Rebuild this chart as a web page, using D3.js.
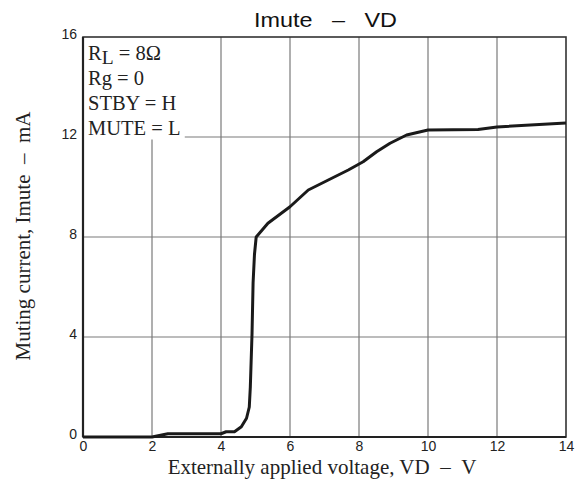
<!DOCTYPE html>
<html><head><meta charset="utf-8">
<script src="https://cdn.jsdelivr.net/npm/d3@7"></script>
<style>body{margin:0;background:#fff}</style>
</head><body>
<svg id="c" width="583" height="490"></svg>
<script>
const vdValues = [0, 2, 2.46, 4.0, 4.15, 4.39, 4.59, 4.74, 4.82, 4.85, 4.9, 4.93, 4.97, 5.02, 5.36, 6.0, 6.53, 7.11, 7.69, 8.12, 8.51, 8.9, 9.38, 10.0, 11.45, 12.0, 14.0];
const imuteValues = [0, 0, 0.13, 0.13, 0.21, 0.21, 0.41, 0.75, 1.2, 2.0, 4.16, 6.16, 7.3, 8.0, 8.55, 9.21, 9.88, 10.28, 10.68, 11.01, 11.41, 11.75, 12.08, 12.28, 12.3, 12.4, 12.56];
const xTicks = [0, 2, 4, 6, 8, 10, 12, 14];
const yTicks = [0, 4, 8, 12, 16];
const legendLines = ["Rg = 0", "STBY = H", "MUTE = L"];

const svg = d3.select("#c");
const L = 83, R = 566, T = 37, B = 437;
const x = d3.scaleLinear().domain([0, 14]).range([L, R]);
const y = d3.scaleLinear().domain([0, 16]).range([B, T]);
const grid = "#7a7a7a";
const legendRight = x(2.95), legendBottom = y(11.9);

// vertical grid
svg.append("g").selectAll("line").data(xTicks.filter(d => d > 0 && d < 14)).join("line")
  .attr("x1", d => x(d)).attr("x2", d => x(d))
  .attr("y1", d => x(d) < legendRight ? legendBottom : T).attr("y2", B)
  .attr("stroke", grid).attr("stroke-width", 1.2);
// horizontal grid
svg.append("g").selectAll("line").data(yTicks.filter(d => d > 0 && d < 16)).join("line")
  .attr("y1", d => y(d)).attr("y2", d => y(d))
  .attr("x1", d => y(d) < legendBottom + 2 ? legendRight : L).attr("x2", R)
  .attr("stroke", grid).attr("stroke-width", 1.2);

// frame
svg.append("rect").attr("x", L).attr("y", T).attr("width", R - L).attr("height", B - T)
  .attr("fill", "none").attr("stroke", "#333").attr("stroke-width", 1.6);
svg.append("line").attr("x1", L).attr("x2", L).attr("y1", T).attr("y2", B).attr("stroke", "#222").attr("stroke-width", 2.2);
svg.append("line").attr("x1", L).attr("x2", R).attr("y1", B).attr("y2", B).attr("stroke", "#222").attr("stroke-width", 2.2);

// axes labels
const xAxis = d3.axisBottom(x).tickValues(xTicks).tickSize(0).tickPadding(4);
const gx = svg.append("g").attr("transform", `translate(0,${B})`).call(xAxis);
gx.select(".domain").remove();
gx.selectAll("text").attr("font-family", "Liberation Sans, Arial, sans-serif").attr("font-size", 14).attr("fill", "#222");
const yAxis = d3.axisLeft(y).tickValues(yTicks).tickSize(0).tickPadding(6);
const gy = svg.append("g").attr("transform", `translate(${L},0)`).call(yAxis);
gy.select(".domain").remove();
gy.selectAll("text").attr("font-family", "Liberation Sans, Arial, sans-serif").attr("font-size", 14).attr("fill", "#222").attr("dy", "0.1em");

// curve
const pts = vdValues.map((v, i) => [v, imuteValues[i]]);
svg.append("path").datum(pts)
  .attr("d", d3.line().x(d => x(d[0])).y(d => y(d[1])))
  .attr("fill", "none").attr("stroke", "#1a1a1a").attr("stroke-width", 3).attr("stroke-linejoin", "round");

// legend
const serif = "Liberation Serif, Times New Roman, serif";
const lg = svg.append("g").attr("font-family", serif).attr("font-size", 20.5).attr("fill", "#222");
const t0 = lg.append("text").attr("x", 88).attr("y", 60);
t0.append("tspan").text("R");
t0.append("tspan").attr("dy", 3.5).attr("font-size", 19.5).text("L");
t0.append("tspan").attr("dy", -3.5).text(" = 8Ω");
lg.selectAll("text.l").data(legendLines).join("text").attr("class", "l")
  .attr("x", 88).attr("y", (d, i) => 85 + i * 25).text(d => d);

// titles
const sp2 = "\u00a0\u00a0", sp3 = "\u00a0\u00a0\u00a0";
svg.append("text").attr("x", 254).attr("y", 27)
  .attr("font-family", "Liberation Sans, Arial, sans-serif").attr("font-size", 21).attr("fill", "#111")
  .attr("textLength", 143).attr("lengthAdjust", "spacingAndGlyphs")
  .text("Imute" + sp3 + "–" + sp3 + "VD");
svg.append("text").attr("x", 322).attr("y", 474).attr("text-anchor", "middle")
  .attr("font-family", serif).attr("font-size", 21).attr("fill", "#222")
  .text("Externally applied voltage, VD" + sp2 + "–" + sp2 + "V");
svg.append("text").attr("transform", "translate(30,236) rotate(-90)").attr("text-anchor", "middle")
  .attr("font-family", serif).attr("font-size", 21).attr("fill", "#222")
  .text("Muting current, Imute" + sp2 + "–" + sp2 + "mA");
</script>
</body></html>
